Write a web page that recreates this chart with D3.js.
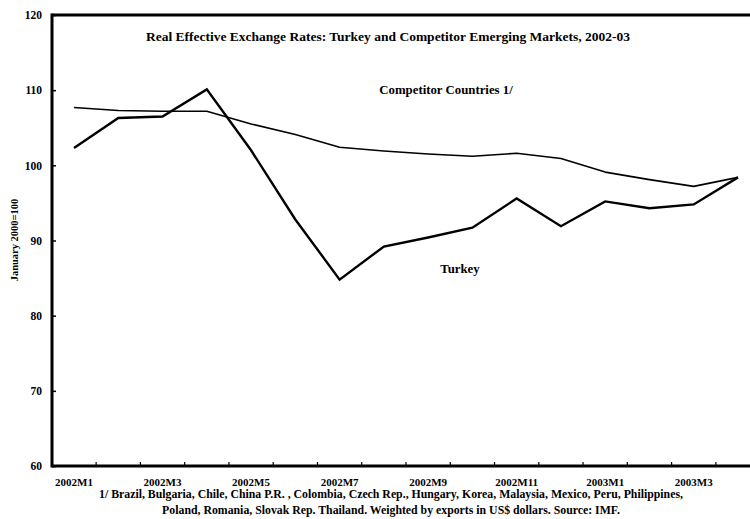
<!DOCTYPE html>
<html>
<head>
<meta charset="utf-8">
<script src="https://cdn.jsdelivr.net/npm/d3@7"></script>
<style>
  body { margin: 0; background: #fff; }
  svg text { font-family: 'Liberation Serif', 'Times New Roman', serif; font-weight: bold; fill: #000; }
</style>
</head>
<body>
<svg width="750" height="519"></svg>
<script>
// data
const months = ['2002M1', '2002M2', '2002M3', '2002M4', '2002M5', '2002M6', '2002M7', '2002M8',
  '2002M9', '2002M10', '2002M11', '2002M12', '2003M1', '2003M2', '2003M3', '2003M4']
const turkey = [102.3, 106.3, 106.5, 110.1, 102.0, 92.8, 84.8, 89.2, 90.4, 91.7, 95.6, 91.9, 95.2, 94.3, 94.8, 98.4]
const competitors = [107.7, 107.3, 107.2, 107.2, 105.5, 104.1, 102.4, 101.9, 101.5, 101.2, 101.6, 100.9, 99.1, 98.1, 97.2, 98.4]
const xLabels = ['2002M1', '2002M3', '2002M5', '2002M7', '2002M9', '2002M11', '2003M1', '2003M3']
const yTicks = [60, 70, 80, 90, 100, 110, 120]

const title = 'Real Effective Exchange Rates: Turkey and Competitor Emerging Markets, 2002-03'
const yTitle = 'January 2000=100'
const notes = [
  '1/ Brazil, Bulgaria, Chile, China P.R. , Colombia, Czech Rep., Hungary, Korea, Malaysia, Mexico, Peru, Philippines,',
  'Poland, Romania, Slovak Rep. Thailand. Weighted by exports in US$ dollars. Source: IMF.'
]

let svg = d3.select('svg')

// plot frame
let plotL = 52
let plotR = 750
let plotT = 15
let plotB = 466

let x = d3.scalePoint().domain(months).range([74, 738])
let y = d3.scaleLinear().domain([60, 120]).range([plotB, plotT])
let step = x.step()

// top border
svg.append('line')
  .attr('x1', plotL).attr('x2', plotR)
  .attr('y1', plotT).attr('y2', plotT)
  .attr('stroke', '#000').attr('stroke-width', 3)

// y axis
let yAxis = d3.axisLeft(y).tickValues(yTicks).tickSize(-4).tickPadding(10)
let gy = svg.append('g')
  .attr('transform', 'translate(' + plotL + ',0)')
  .call(yAxis)
gy.select('.domain').remove()
gy.selectAll('.tick line').attr('stroke-width', 1.5)
gy.selectAll('.tick text').attr('font-size', 11.5)
svg.append('line')
  .attr('x1', plotL).attr('x2', plotL)
  .attr('y1', plotT - 1.5).attr('y2', plotB + 1.5)
  .attr('stroke', '#000').attr('stroke-width', 3)

// x axis: ticks fall between months, labels every other month
let gx = svg.append('g')
  .attr('transform', 'translate(0,' + plotB + ')')
gx.selectAll('line.tk')
  .data(months.slice(0, -1))
  .enter().append('line')
  .attr('class', 'tk')
  .attr('x1', (d) => x(d) + step / 2).attr('x2', (d) => x(d) + step / 2)
  .attr('y1', 0).attr('y2', -4)
  .attr('stroke', '#000').attr('stroke-width', 1.2)
gx.append('line')
  .attr('x1', plotL).attr('x2', plotR)
  .attr('y1', 0).attr('y2', 0)
  .attr('stroke', '#000').attr('stroke-width', 3)
gx.selectAll('text')
  .data(xLabels)
  .enter().append('text')
  .attr('x', (d) => x(d))
  .attr('y', 20)
  .attr('text-anchor', 'middle')
  .attr('font-size', 11)
  .text((d) => d)

// series
let line = d3.line()
  .x((d, i) => x(months[i]))
  .y((d) => y(d))

svg.append('path').datum(competitors)
  .attr('d', line)
  .attr('fill', 'none')
  .attr('stroke', '#000')
  .attr('stroke-width', 1.6)
  .attr('stroke-linejoin', 'round')

svg.append('path').datum(turkey)
  .attr('d', line)
  .attr('fill', 'none')
  .attr('stroke', '#000')
  .attr('stroke-width', 2.4)
  .attr('stroke-linejoin', 'miter')

// titles and labels
svg.append('text')
  .attr('x', 388).attr('y', 41)
  .attr('text-anchor', 'middle')
  .attr('font-size', 13.5)
  .text(title)

svg.append('text')
  .attr('x', 446).attr('y', 94)
  .attr('text-anchor', 'middle')
  .attr('font-size', 12.8)
  .text('Competitor Countries 1/')

svg.append('text')
  .attr('x', 460).attr('y', 273)
  .attr('text-anchor', 'middle')
  .attr('font-size', 12.8)
  .text('Turkey')

svg.append('text')
  .attr('transform', 'translate(18,240) rotate(-90)')
  .attr('text-anchor', 'middle')
  .attr('font-size', 10.5)
  .text(yTitle)

svg.selectAll('text.note')
  .data(notes)
  .enter().append('text')
  .attr('class', 'note')
  .attr('x', 391)
  .attr('y', (d, i) => 498 + i * 16)
  .attr('text-anchor', 'middle')
  .attr('font-size', 11.8)
  .text((d) => d)
</script>
</body>
</html>
